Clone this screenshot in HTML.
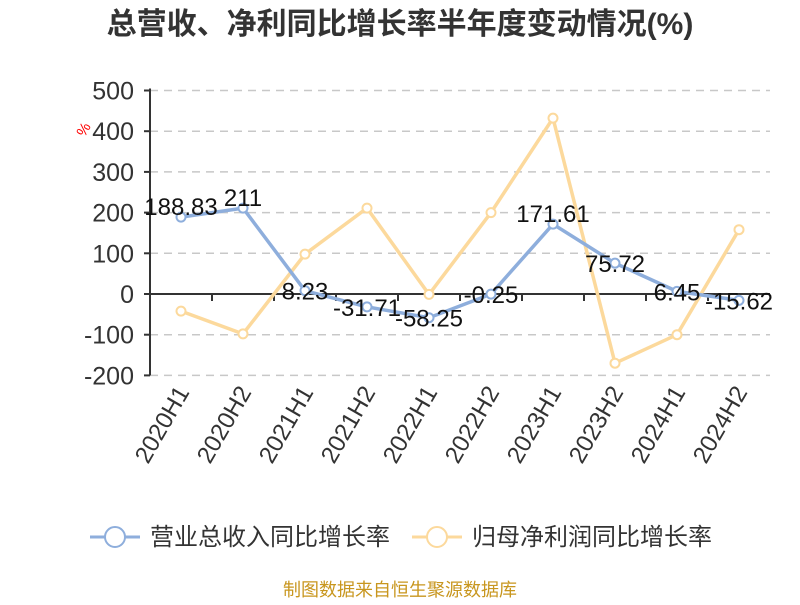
<!DOCTYPE html>
<html><head><meta charset="utf-8"><style>
body{margin:0;background:#fff;}
svg text{font-family:"Liberation Sans","Noto Sans CJK SC",sans-serif;}
</style></head><body>
<svg id="chart" width="800" height="600" xmlns="http://www.w3.org/2000/svg">
<text x="400" y="34" text-anchor="middle" font-size="30" font-weight="bold" fill="#333">总营收、净利同比增长率半年度变动情况(%)</text>
<text x="88" y="132" font-size="15" fill="red" transform="rotate(-60 88 132)" text-anchor="middle">%</text>
<g id="grid"></g><g id="axes"></g><g id="series"></g>
<g>
<g><line x1="90" y1="537" x2="140" y2="537" stroke="#8eaedc" stroke-width="3"/><circle cx="115" cy="537" r="10" fill="#fff" stroke="#8eaedc" stroke-width="2"/><text x="150" y="545" font-size="24" fill="#333">营业总收入同比增长率</text></g>
<g><line x1="412" y1="537" x2="462" y2="537" stroke="#fcd99c" stroke-width="3"/><circle cx="437" cy="537" r="10" fill="#fff" stroke="#fcd99c" stroke-width="2"/><text x="472" y="545" font-size="24" fill="#333">归母净利润同比增长率</text></g>
</g>
<text x="400" y="596" text-anchor="middle" font-size="18" fill="#c8961e">制图数据来自恒生聚源数据库</text>
</svg>
<script>
const categories=["2020H1","2020H2","2021H1","2021H2","2022H1","2022H2","2023H1","2023H2","2024H1","2024H2"];
const revenue=[188.83,211,8.23,-31.71,-58.25,-0.25,171.61,75.72,6.45,-15.62];
const profit=[-42,-98,98,211,-1,200,432,-170,-100,158];
const yTicks=[500,400,300,200,100,0,-100,-200];
const NS="http://www.w3.org/2000/svg";
const x0=150,x1=770,bw=(x1-x0)/categories.length;
function xs(i){return x0+bw*(i+0.5);}
function ys(v){return 294-v*0.407;}
function mk(tag,attrs,parent,txt){const e=document.createElementNS(NS,tag);for(const k in attrs)e.setAttribute(k,attrs[k]);if(txt!==undefined)e.textContent=txt;parent.appendChild(e);return e;}
const grid=document.getElementById('grid'),axes=document.getElementById('axes'),ser=document.getElementById('series');
yTicks.forEach(t=>{
 if(t!==0){const l=mk('line',{x1:x0,x2:x1,y1:ys(t),y2:ys(t),stroke:'#c8c8c8','stroke-dasharray':'8,6','stroke-width':1.5},grid);
 
 }
 const tk=mk('line',{x1:x0-6,x2:x0,y1:ys(t),y2:ys(t),stroke:'#333','stroke-width':2},axes);
 
 
 const tx=mk('text',{x:x0-16,y:ys(t)+9,'text-anchor':'end','font-size':25,fill:'#333'},axes,t);
 
 
});
const ya=mk('line',{x1:x0,x2:x0,y1:ys(500)-2,y2:ys(-200),stroke:'#333','stroke-width':2},axes);


const xa=mk('line',{x1:x0,x2:x1,y1:ys(0),y2:ys(0),stroke:'#333','stroke-width':2},axes);


categories.forEach((c,i)=>{
 if(i>0){const tk=mk('line',{x1:x0+bw*i,x2:x0+bw*i,y1:ys(0),y2:ys(0)+7,stroke:'#333','stroke-width':2},axes);
 
 }
 const x=xs(i)+9,y=392;
 const t=mk('text',{x:x,y:y,'text-anchor':'end','font-size':24,fill:'#333',transform:`rotate(-60 ${x} ${y})`},axes,c);
 
 
});
function drawSeries(vals,color,name){
 const pts=vals.map((v,i)=>xs(i)+','+ys(v)).join(' ');
 const pl=mk('polyline',{points:pts,fill:'none',stroke:color,'stroke-width':3.5},ser);
 
 
 vals.forEach((v,i)=>{
  const c=mk('circle',{cx:xs(i),cy:ys(v),r:4.5,fill:'#fff',stroke:color,'stroke-width':2},ser);
  
  
 });
}
drawSeries(profit,'#fcd99c','profit');
drawSeries(revenue,'#8eaedc','revenue');
revenue.forEach((v,i)=>{
 const t=mk('text',{x:xs(i),y:ys(v)+(v>100?-2:9),'text-anchor':'middle','font-size':24,fill:'#111'},ser,v);
 
 
});
</script>
</body></html>
